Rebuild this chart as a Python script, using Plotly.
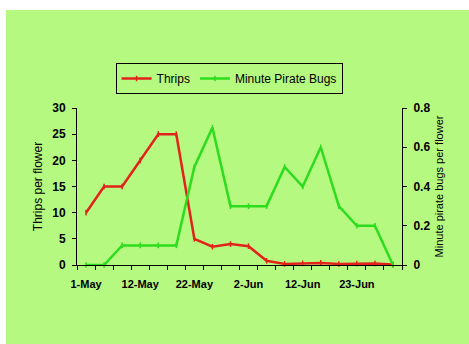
import plotly.graph_objects as go

dates = ["1-May", "4-May", "8-May", "12-May", "15-May", "19-May", "22-May", "26-May",
         "29-May", "2-Jun", "5-Jun", "9-Jun", "12-Jun", "16-Jun", "19-Jun", "23-Jun",
         "26-Jun", "30-Jun"]
thrips = [10, 15, 15, 20, 25, 25, 5, 3.5, 4, 3.6, 0.8, 0.2, 0.3, 0.4, 0.2, 0.3, 0.3, 0.1]
pirate_bugs = [0, 0, 0.1, 0.1, 0.1, 0.1, 0.5, 0.7, 0.3, 0.3, 0.3, 0.5, 0.4, 0.6, 0.3, 0.2, 0.2, 0]
x_labels = [d if i % 3 == 0 else "" for i, d in enumerate(dates)]
left_ticks = [0, 5, 10, 15, 20, 25, 30]
right_ticks = [0, 0.2, 0.4, 0.6, 0.8]
right_ticktext = ["0", "0.2", "0.4", "0.6", "0.8"]

BG = "#B6F981"
RED = "#E2231A"
GREEN = "#2EDC1E"
FONT = "Liberation Sans, Arial, sans-serif"

fig = go.Figure()
fig.add_trace(go.Scatter(
    x=dates, y=thrips, name="Thrips", mode="lines+markers",
    line=dict(color=RED, width=2.5),
    marker=dict(symbol="line-ns", size=4, line=dict(color=RED, width=1.5)),
    cliponaxis=False, xaxis="x", yaxis="y"))
fig.add_trace(go.Scatter(
    x=dates, y=pirate_bugs, name="Minute Pirate Bugs", mode="lines+markers",
    line=dict(color=GREEN, width=2.5),
    marker=dict(symbol="line-ns", size=4, line=dict(color=GREEN, width=1.5)),
    cliponaxis=False, xaxis="x", yaxis="y2"))

n = len(dates)
bounds = [i - 0.5 for i in range(n + 1)]
xtickfont = dict(family=FONT, size=11, color="black", weight="bold")
ytickfont = dict(family=FONT, size=12, color="black", weight="bold")

fig.update_layout(
    width=469, height=344,
    margin=dict(l=77, r=67, t=108, b=79, pad=0),
    paper_bgcolor="white",
    plot_bgcolor="rgba(0,0,0,0)",
    font=dict(family=FONT, color="black"),
    showlegend=True,
    legend=dict(
        orientation="h", x=0.468, xanchor="center", y=(265 - 78.5) / 157, yanchor="middle",
        bgcolor=BG, bordercolor="black", borderwidth=1,
        font=dict(family=FONT, size=12, color="black"),
        itemwidth=30, tracegroupgap=0,
    ),
    xaxis=dict(
        type="category", categoryorder="array", categoryarray=dates,
        range=[-0.5, n - 0.5], tickmode="array", tickvals=dates, ticktext=x_labels,
        tickson="boundaries", ticks="outside", ticklen=4, tickcolor="black", tickwidth=1,
        showline=True, linecolor="black", linewidth=1, showgrid=False, zeroline=False,
        tickfont=xtickfont, ticklabelstandoff=9, tickangle=0,
    ),
    xaxis2=dict(
        overlaying="x", anchor="y", range=[-0.5, n - 0.5], tickmode="array", tickvals=bounds,
        ticks="inside", ticklen=4, tickcolor="black", tickwidth=1,
        showticklabels=False, showline=False, showgrid=False, zeroline=False,
    ),
    yaxis=dict(
        range=[0, 30], tickmode="array", tickvals=left_ticks,
        ticks="outside", ticklen=4, tickcolor="black", tickwidth=1,
        showline=True, linecolor="black", linewidth=1, showgrid=False, zeroline=False,
        tickfont=ytickfont, ticklabelstandoff=4,
        title=dict(text="Thrips per flower", font=dict(family=FONT, size=12), standoff=7),
    ),
    yaxis2=dict(
        overlaying="y", side="right", anchor="x", range=[0, 0.8], tickmode="array",
        tickvals=right_ticks, ticktext=right_ticktext,
        ticks="outside", ticklen=4, tickcolor="black", tickwidth=1,
        showline=True, linecolor="black", linewidth=1, showgrid=False, zeroline=False,
        tickfont=ytickfont, ticklabelstandoff=4,
        title=dict(text="Minute pirate bugs per flower", font=dict(family=FONT, size=11), standoff=5),
    ),
    yaxis3=dict(
        overlaying="y", anchor="x", side="left", range=[0, 30], tickmode="array", tickvals=left_ticks,
        ticks="inside", ticklen=4, tickcolor="black", tickwidth=1,
        showticklabels=False, showline=False, showgrid=False, zeroline=False,
    ),
    yaxis4=dict(
        overlaying="y", anchor="x", side="right", range=[0, 0.8], tickmode="array", tickvals=right_ticks,
        ticks="inside", ticklen=3, tickcolor="black", tickwidth=1,
        showticklabels=False, showline=False, showgrid=False, zeroline=False,
    ),
    shapes=[dict(
        type="rect", xref="paper", yref="paper", layer="below",
        x0=(6 - 77) / 325, x1=1.4, y0=-0.7, y1=(265 - 10) / 157,
        fillcolor=BG, line=dict(width=0),
    )],
)

fig.write_html("out.html")
